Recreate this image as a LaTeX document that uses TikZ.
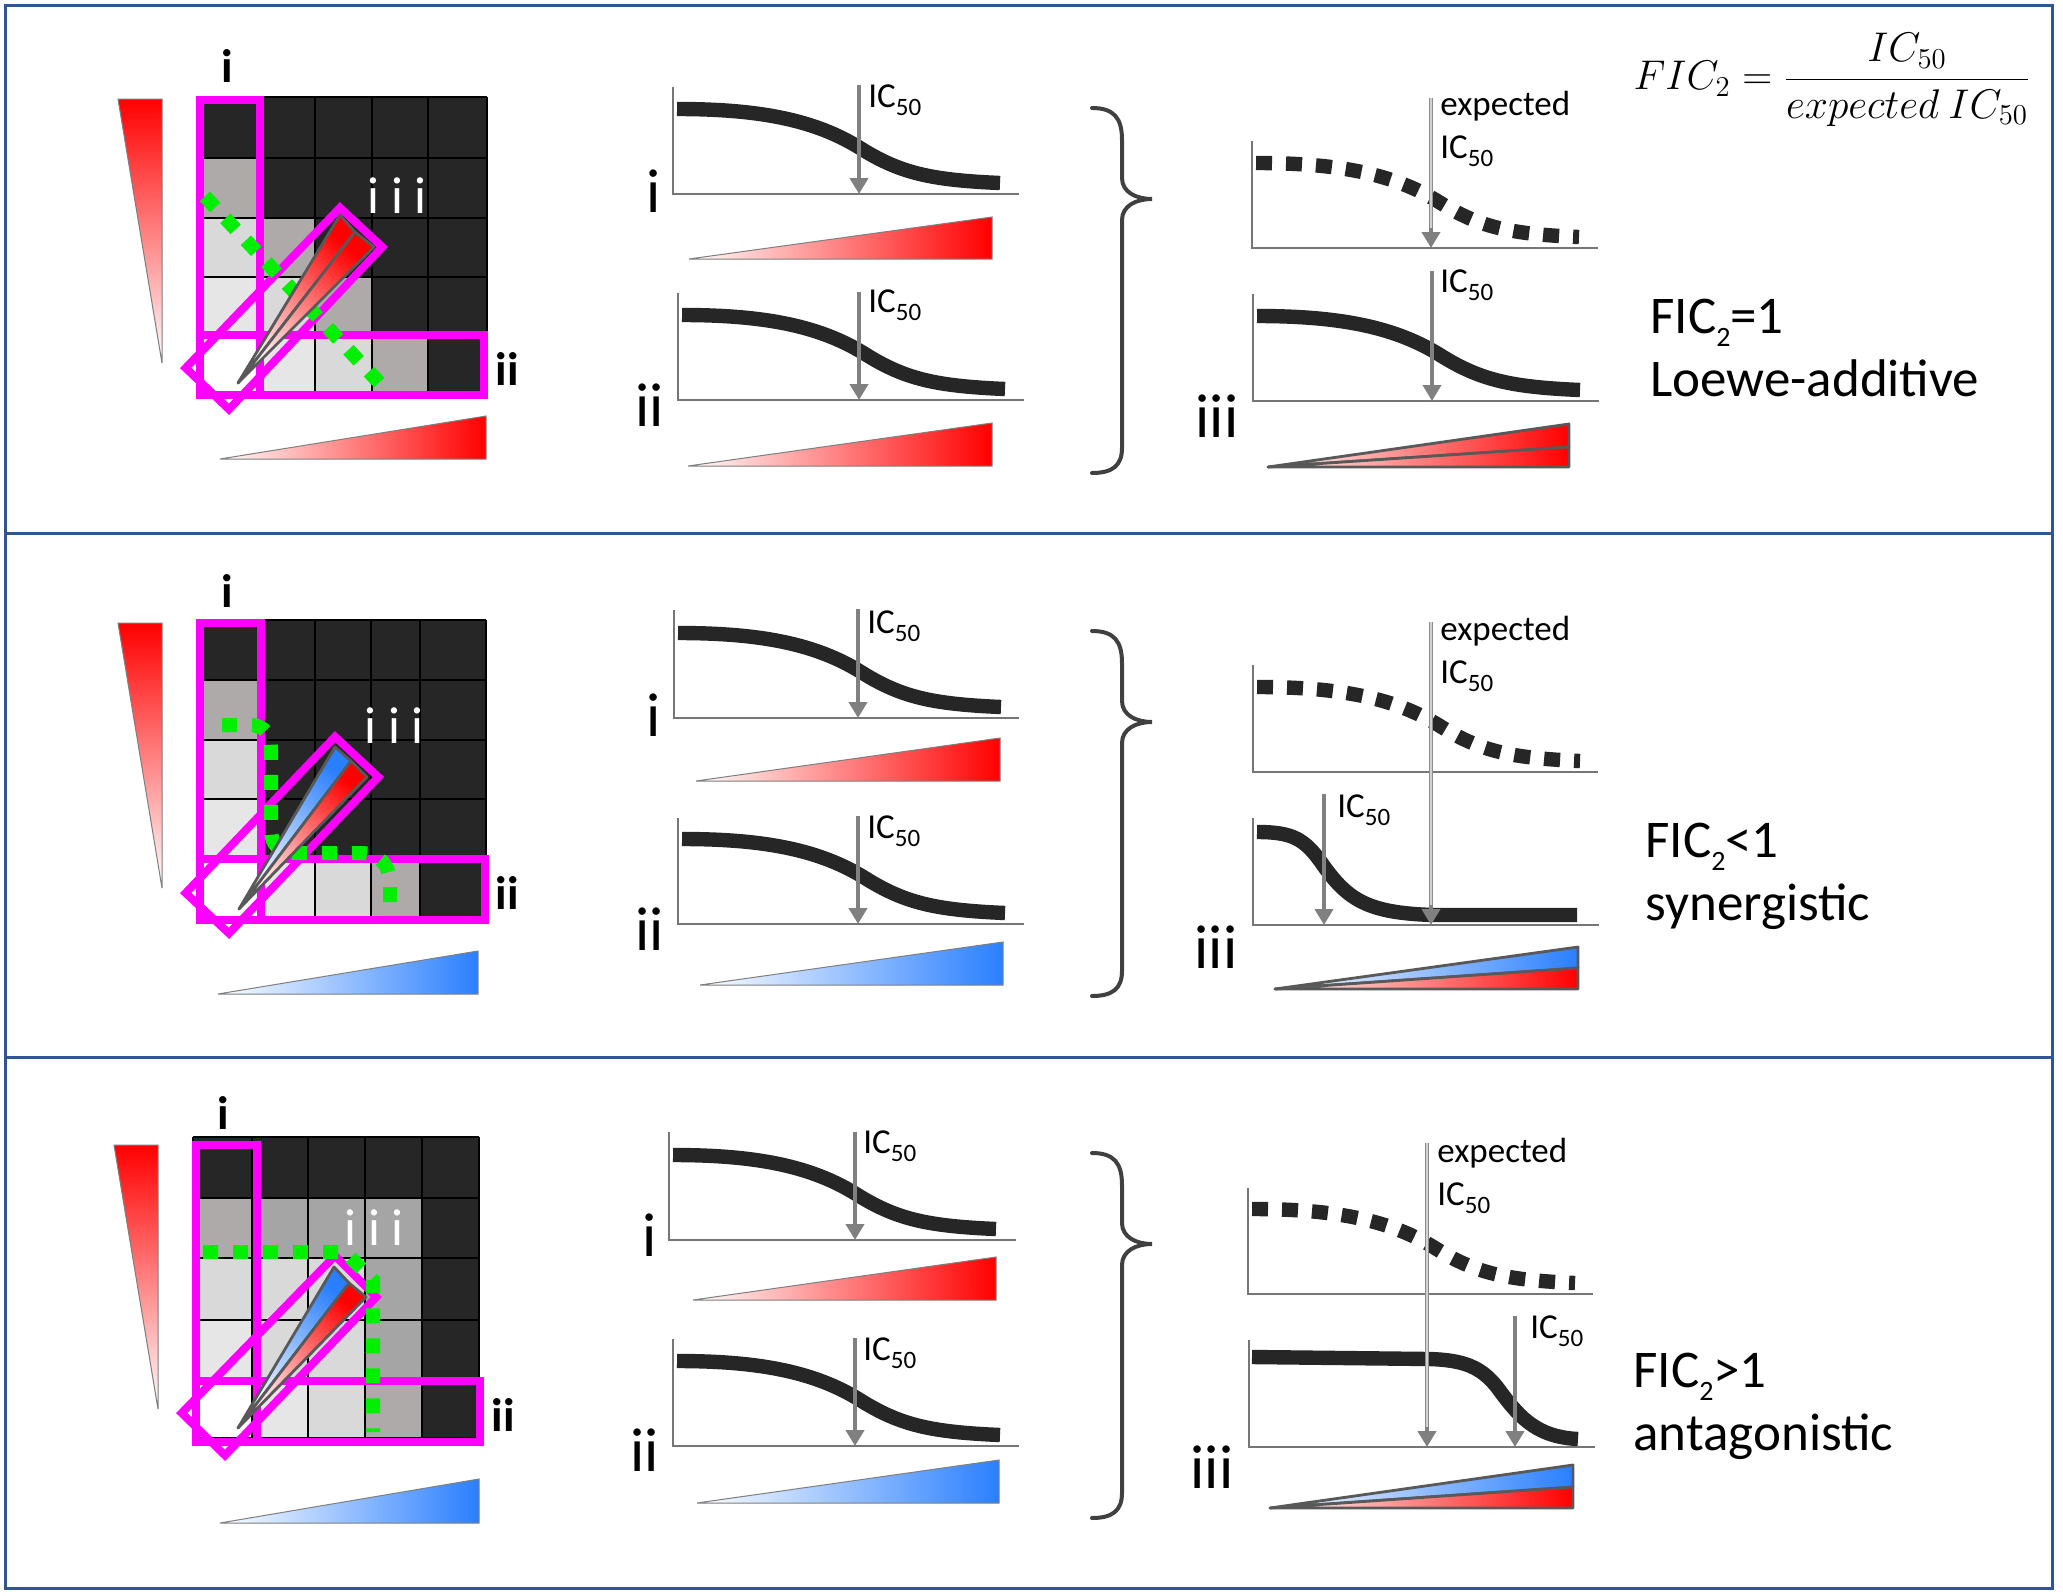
\documentclass[tikz,border=0pt]{standalone}
\usepackage[no-math]{fontspec}
\setmainfont{Carlito}
\usetikzlibrary{arrows.meta}
\definecolor{cdark}{HTML}{262626}
\definecolor{cgray}{HTML}{AEAAAA}
\definecolor{cgraytwo}{HTML}{A5A5A5}
\definecolor{clight}{HTML}{D9D9D9}
\definecolor{clighter}{HTML}{E7E6E6}
\definecolor{cmag}{HTML}{FF00FF}
\definecolor{cgreen}{HTML}{00F000}
\definecolor{cred}{HTML}{FF0000}
\definecolor{cblue}{HTML}{2A7FFF}
\definecolor{arrowgray}{HTML}{808080}
\definecolor{axisgray}{HTML}{767676}
\definecolor{borderblue}{HTML}{2F5597}
\definecolor{bracegray}{HTML}{404040}
\definecolor{wedgegray}{HTML}{595959}
\definecolor{trigray}{HTML}{7F7F7F}
\newcommand{\ICL}{IC\raisebox{-4pt}{\fontsize{12.5}{12.5}\selectfont 50}}
\newcommand{\FICsub}{FIC\raisebox{-6.5pt}{\fontsize{14}{14}\selectfont 2}}
\newcommand{\sigA}[2]{\begin{scope}[shift={#1}]\draw[#2] (4,-85) .. controls (87,-85) and (142,-74) .. (187,-46) .. controls (227,-21) and (257,-14) .. (327,-11);\end{scope}}
\newcommand{\sigB}[2]{\begin{scope}[shift={#1}]\draw[#2] (4,-93) .. controls (40,-93) and (52,-86) .. (70,-60) .. controls (95,-25) and (115,-12) .. (180,-10) -- (324,-10);\end{scope}}
\newcommand{\sigC}[2]{\begin{scope}[shift={#1}]\draw[#2] (3,-90) -- (180,-88) .. controls (215,-87) and (232,-80) .. (248,-60) .. controls (268,-33) and (285,-10) .. (329,-8);\end{scope}}
\newcommand{\bracep}[1]{\begin{scope}[shift={(0,#1)}]\draw[bracepath] (1092,108) .. controls (1114,108) and (1122,118) .. (1122,140) -- (1122,178) .. controls (1122,192) and (1136,199) .. (1152,199) .. controls (1136,199) and (1122,206) .. (1122,220) -- (1122,448) .. controls (1122,466) and (1112,473) .. (1092,473);\end{scope}}
\tikzset{
  gridline/.style={black, line width=1pt},
  magbox/.style={draw=cmag, line width=4pt},
  greendots/.style={draw=cgreen, line width=7pt, dash pattern=on 7.5pt off 7.5pt},
  wedgeshape/.style={draw=wedgegray, line width=1.4pt, line join=round},
  gradtri/.style={draw=trigray, line width=0.5pt},
  axisline/.style={draw=axisgray, line width=0.8pt},
  sigcurve/.style={draw=cdark, line width=7.2pt},
  dashcurve/.style={draw=cdark, line width=7.2pt, dash pattern=on 8pt off 7pt},
  icarrow/.style={draw=arrowgray, line width=2pt, -{Triangle[width=9pt,length=8pt]}},
  expline/.style={draw=black!45, line width=0.6pt, double=black!18, double distance=0.9pt},
  bracepath/.style={draw=bracegray, line width=2pt, line cap=round},
  borderline/.style={draw=borderblue, line width=1.5pt},
  gridlbl/.style={inner sep=0pt, font=\fontsize{23.5}{24}\selectfont\bfseries},
  biglbl/.style={inner sep=0pt, font=\fontsize{31}{31}\selectfont},
  whitelbl/.style={inner sep=0pt, text=white, font=\fontsize{26}{26}\selectfont},
  iclbl/.style={inner sep=0pt, anchor=base west, font=\fontsize{17.5}{21}\selectfont},
  ficlbl/.style={inner sep=0pt, anchor=base west, font=\fontsize{26.5}{30}\selectfont}
}
\begin{document}
\begin{tikzpicture}[x=0.5pt, y=-0.5pt]
\useasboundingbox (0,0) rectangle (2063,1596);
\fill[white] (0,0) rectangle (2063,1596);
% ---------- borders
\draw[borderline] (5,5) rectangle (2052,1588);
\draw[borderline] (5,533) -- (2052,533);
\draw[borderline] (5,1057) -- (2052,1057);

% ================= PANEL 1 =================
\fill[cdark] (200,97) rectangle (487,392);
\fill[cgray] (200,158) rectangle (263,218);
\fill[clight] (200,218) rectangle (263,277);
\fill[cgray] (263,218) rectangle (315,277);
\fill[clighter] (200,277) rectangle (263,335);
\fill[clight] (263,277) rectangle (315,335);
\fill[cgray] (315,277) rectangle (372,335);
\fill[white] (200,335) rectangle (263,392);
\fill[clighter] (263,335) rectangle (315,392);
\fill[clight] (315,335) rectangle (372,392);
\fill[cgray] (372,335) rectangle (428,392);
\foreach \x in {200,263,315,372,428,487} \draw[gridline] (\x,97) -- (\x,392);
\foreach \y in {97,158,218,277,335,392} \draw[gridline] (200,\y) -- (487,\y);
\draw[magbox] (200,100) rectangle (260,395);
\draw[magbox] (200,335) rectangle (484,395);
\draw[magbox] (185.7,368) -- (229,409.3) -- (382.3,247) -- (340,207.7) -- cycle;
\draw[greendots] (204.9,196.5) -- (379.1,382.5);
\draw[wedgeshape, top color=cred, bottom color=white, shading angle=-38] (238,383) -- (340,215) -- (355,232) -- cycle;
\draw[wedgeshape, top color=cred, bottom color=white, shading angle=-38] (238,383) -- (355,232) -- (374,247) -- cycle;
\node[whitelbl] (g1iii) at (397,196) {i i i};
\node[gridlbl] (g1i) at (227,66) {i};
\node[gridlbl] (g1ii) at (507,369) {ii};
\draw[gradtri, top color=cred, bottom color=white] (118,99) -- (162,99) -- (162,363) -- cycle;
\draw[gradtri, left color=white, right color=cred] (220,459) -- (486,459) -- (486,416) -- cycle;
% middle i
\draw[axisline] (673,87) -- (673,194) -- (1019,194);
\sigA{(673,194)}{sigcurve}
\coordinate (m1ia) at (859,85); \coordinate (m1ib) at (859,194);
\draw[icarrow] (m1ia) -- (m1ib);
\node[iclbl] (m1ilbl) at (868,107) {\ICL};
\draw[gradtri, left color=white, right color=cred] (689,259) -- (992,259) -- (992,217) -- cycle;
\node[biglbl] (m1i) at (654,191) {i};
% middle ii
\draw[axisline] (678,293) -- (678,400) -- (1024,400);
\sigA{(678,400)}{sigcurve}
\coordinate (m1iia) at (859,292); \coordinate (m1iib) at (859,400);
\draw[icarrow] (m1iia) -- (m1iib);
\node[iclbl] (m1iilbl) at (868,312) {\ICL};
\draw[gradtri, left color=white, right color=cred] (688,466) -- (992,466) -- (992,423) -- cycle;
\node[biglbl] (m1ii) at (650,405) {ii};
% brace
\bracep{0}
% right dashed
\draw[axisline] (1252,141) -- (1252,248) -- (1598,248);
\sigA{(1252,248)}{dashcurve}
\coordinate (r1ea) at (1431,98); \coordinate (r1eh) at (1431,228); \coordinate (r1eb) at (1431,248);
\draw[expline] (r1ea) -- (r1eh);
\draw[icarrow] (r1eh) -- (r1eb);
\node[iclbl] (r1exp) at (1440,115) {expected};
\node[iclbl] (r1expic) at (1440,158) {\ICL};
% right solid
\draw[axisline] (1253,294) -- (1253,401) -- (1599,401);
\sigA{(1253,401)}{sigcurve}
\coordinate (r1ia) at (1432,271); \coordinate (r1ib) at (1432,401);
\draw[icarrow] (r1ia) -- (r1ib);
\node[iclbl] (r1ic) at (1440,292) {\ICL};
\draw[wedgeshape, left color=white, right color=cred] (1268,467) -- (1569,424) -- (1569,447) -- cycle;
\draw[wedgeshape, left color=white, right color=cred] (1268,467) -- (1569,447) -- (1569,467) -- cycle;
\node[biglbl] (r1iii) at (1217,416) {iii};
% texts
\node[inner sep=0pt] (formula) at (1832,80) {\fontsize{20.5}{24}\selectfont $\displaystyle FIC_2=\frac{IC_{50}}{expected\ IC_{50}}$};
\node[ficlbl] (f1a) at (1650,333) {\FICsub=1};
\node[ficlbl] (f1b) at (1650,396) {Loewe-additive};

% ================= PANEL 2 =================
\fill[cdark] (200,620) rectangle (486,917);
\fill[cgray] (200,680) rectangle (263,740);
\fill[clight] (200,740) rectangle (263,799);
\fill[clighter] (200,799) rectangle (263,857);
\fill[white] (200,857) rectangle (263,917);
\fill[clighter] (263,857) rectangle (315,917);
\fill[clight] (315,857) rectangle (371,917);
\fill[cgray] (371,857) rectangle (420,917);
\foreach \x in {200,263,315,371,420,486} \draw[gridline] (\x,620) -- (\x,917);
\foreach \y in {620,680,740,799,857,917} \draw[gridline] (200,\y) -- (486,\y);
\draw[magbox] (200,623) rectangle (261,920);
\draw[magbox] (200,859) rectangle (485,920);
\draw[magbox] (185.7,893) -- (229,933.3) -- (378.3,777) -- (335,736.7) -- cycle;
\draw[greendots] (222,725) -- (250,725) .. controls (265,725) and (271,735) .. (271,750) -- (271,830) .. controls (271,845) and (280,853) .. (295,853) -- (360,853) .. controls (380,853) and (390,865) .. (390,885) -- (390,905);
\draw[wedgeshape, top color=cblue, bottom color=white, shading angle=-37] (239,909) -- (335,747) -- (351,761) -- cycle;
\draw[wedgeshape, top color=cred, bottom color=white, shading angle=-37] (239,909) -- (351,761) -- (367,777) -- cycle;
\node[whitelbl] (g2iii) at (394,726) {i i i};
\node[gridlbl] (g2i) at (227,591) {i};
\node[gridlbl] (g2ii) at (507,893) {ii};
\draw[gradtri, top color=cred, bottom color=white] (118,623) -- (162,623) -- (162,888) -- cycle;
\draw[gradtri, left color=white, right color=cblue] (218,994) -- (478,994) -- (478,951) -- cycle;
% middle i
\draw[axisline] (674,610) -- (674,718) -- (1019,718);
\sigA{(674,718)}{sigcurve}
\coordinate (m2ia) at (858,609); \coordinate (m2ib) at (858,718);
\draw[icarrow] (m2ia) -- (m2ib);
\node[iclbl] (m2ilbl) at (867,633) {\ICL};
\draw[gradtri, left color=white, right color=cred] (696,781) -- (1000,781) -- (1000,738) -- cycle;
\node[biglbl] (m2i) at (654,715) {i};
% middle ii
\draw[axisline] (678,818) -- (678,924) -- (1024,924);
\sigA{(678,924)}{sigcurve}
\coordinate (m2iia) at (858,816); \coordinate (m2iib) at (858,924);
\draw[icarrow] (m2iia) -- (m2iib);
\node[iclbl] (m2iilbl) at (867,838) {\ICL};
\draw[gradtri, left color=white, right color=cblue] (700,985) -- (1003,985) -- (1003,942) -- cycle;
\node[biglbl] (m2ii) at (650,929) {ii};
\bracep{523}
% right dashed
\draw[axisline] (1253,665) -- (1253,772) -- (1598,772);
\sigA{(1253,772)}{dashcurve}
% right solid
\draw[axisline] (1253,818) -- (1253,925) -- (1599,925);
\sigB{(1253,925)}{sigcurve}
\coordinate (r2ia) at (1324,794); \coordinate (r2ib) at (1324,925);
\draw[icarrow] (r2ia) -- (r2ib);
\node[iclbl] (r2ic) at (1337,817) {\ICL};
\coordinate (r2ea) at (1431,622); \coordinate (r2eh) at (1431,905); \coordinate (r2eb) at (1431,925);
\draw[expline] (r2ea) -- (r2eh);
\draw[icarrow] (r2eh) -- (r2eb);
\node[iclbl] (r2exp) at (1440,640) {expected};
\node[iclbl] (r2expic) at (1440,683) {\ICL};
\draw[wedgeshape, left color=white, right color=cblue] (1275,989) -- (1578,947) -- (1578,968) -- cycle;
\draw[wedgeshape, left color=white, right color=cred] (1275,989) -- (1578,968) -- (1578,989) -- cycle;
\node[biglbl] (r2iii) at (1216,947) {iii};
\node[ficlbl] (f2a) at (1645,857) {\FICsub<1};
\node[ficlbl] (f2b) at (1645,920) {synergistic};

% ================= PANEL 3 =================
\fill[cdark] (193,1137) rectangle (479,1438);
\fill[cgray] (193,1198) rectangle (252,1258);
\fill[cgraytwo] (252,1198) rectangle (422,1258);
\fill[clight] (193,1258) rectangle (365,1320);
\fill[cgraytwo] (365,1258) rectangle (422,1320);
\fill[clighter] (193,1320) rectangle (252,1378);
\fill[clight] (252,1320) rectangle (365,1378);
\fill[cgraytwo] (365,1320) rectangle (422,1378);
\fill[white] (193,1378) rectangle (252,1438);
\fill[clighter] (252,1378) rectangle (308,1438);
\fill[clight] (308,1378) rectangle (365,1438);
\fill[cgray] (365,1378) rectangle (422,1438);
\foreach \x in {193,252,308,365,422,479} \draw[gridline] (\x,1137) -- (\x,1438);
\foreach \y in {1137,1198,1258,1320,1378,1438} \draw[gridline] (193,\y) -- (479,\y);
\draw[magbox] (196,1145) rectangle (257,1442);
\draw[magbox] (196,1381) rectangle (480,1442);
\draw[magbox] (181.7,1413) -- (225,1455.3) -- (376.3,1297) -- (335,1255.7) -- cycle;
\draw[greendots] (203,1252) -- (345,1252) -- (373,1280) -- (373,1432);
\draw[wedgeshape, top color=cblue, bottom color=white, shading angle=-37] (238,1428) -- (334,1267) -- (349,1283) -- cycle;
\draw[wedgeshape, top color=cred, bottom color=white, shading angle=-37] (238,1428) -- (349,1283) -- (366,1297) -- cycle;
\node[whitelbl] (g3iii) at (374,1228) {i i i};
\node[gridlbl] (g3i) at (223,1113) {i};
\node[gridlbl] (g3ii) at (503,1415) {ii};
\draw[gradtri, top color=cred, bottom color=white] (114,1145) -- (158,1145) -- (158,1409) -- cycle;
\draw[gradtri, left color=white, right color=cblue] (220,1523) -- (479,1523) -- (479,1479) -- cycle;
% middle i
\draw[axisline] (669,1132) -- (669,1240) -- (1016,1240);
\sigA{(669,1240)}{sigcurve}
\coordinate (m3ia) at (855,1132); \coordinate (m3ib) at (855,1240);
\draw[icarrow] (m3ia) -- (m3ib);
\node[iclbl] (m3ilbl) at (863,1153) {\ICL};
\draw[gradtri, left color=white, right color=cred] (693,1300) -- (996,1300) -- (996,1257) -- cycle;
\node[biglbl] (m3i) at (650,1235) {i};
% middle ii
\draw[axisline] (673,1339) -- (673,1446) -- (1019,1446);
\sigA{(673,1446)}{sigcurve}
\coordinate (m3iia) at (855,1338); \coordinate (m3iib) at (855,1446);
\draw[icarrow] (m3iia) -- (m3iib);
\node[iclbl] (m3iilbl) at (863,1360) {\ICL};
\draw[gradtri, left color=white, right color=cblue] (697,1503) -- (999,1503) -- (999,1460) -- cycle;
\node[biglbl] (m3ii) at (645,1450) {ii};
\bracep{1045}
% right dashed
\draw[axisline] (1248,1188) -- (1248,1294) -- (1593,1294);
\sigA{(1248,1294)}{dashcurve}
% right solid
\draw[axisline] (1249,1340) -- (1249,1447) -- (1595,1447);
\sigC{(1249,1447)}{sigcurve}
\coordinate (r3ia) at (1515,1316); \coordinate (r3ib) at (1515,1447);
\draw[icarrow] (r3ia) -- (r3ib);
\node[iclbl] (r3ic) at (1530,1338) {\ICL};
\coordinate (r3ea) at (1427,1143); \coordinate (r3eh) at (1427,1427); \coordinate (r3eb) at (1427,1447);
\draw[expline] (r3ea) -- (r3eh);
\draw[icarrow] (r3eh) -- (r3eb);
\node[iclbl] (r3exp) at (1437,1162) {expected};
\node[iclbl] (r3expic) at (1437,1205) {\ICL};
\draw[wedgeshape, left color=white, right color=cblue] (1270,1508) -- (1573,1465) -- (1573,1487) -- cycle;
\draw[wedgeshape, left color=white, right color=cred] (1270,1508) -- (1573,1487) -- (1573,1508) -- cycle;
\node[biglbl] (r3iii) at (1212,1467) {iii};
\node[ficlbl] (f3a) at (1633,1387) {\FICsub>1};
\node[ficlbl] (f3b) at (1633,1450) {antagonistic};
\end{tikzpicture}
\end{document}
